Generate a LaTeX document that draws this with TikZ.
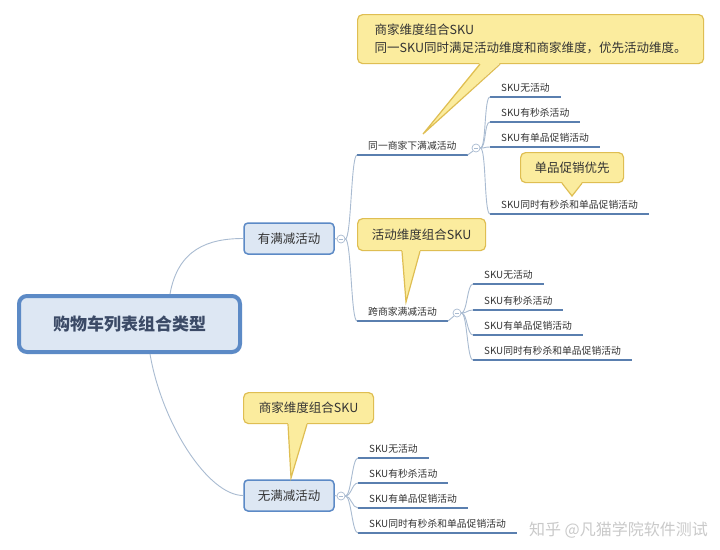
\documentclass[tikz,border=0pt]{standalone}
\usepackage{fontspec}
\setmainfont{Noto Sans CJK SC}
\usetikzlibrary{calc}
\definecolor{connc}{HTML}{A9BBD1}
\definecolor{ulc}{HTML}{5A7FAF}
\definecolor{boxfill}{HTML}{DDE7F3}
\definecolor{boxdraw}{HTML}{5C8AC6}
\definecolor{callfill}{HTML}{FBEC9E}
\definecolor{calldraw}{HTML}{DFBE52}
\definecolor{txt}{HTML}{333333}
\definecolor{roottxt}{HTML}{3B4A66}
\definecolor{wmc}{HTML}{C4C4C4}
\tikzset{
 rootbox/.style={draw=boxdraw, line width=4pt, fill=boxfill, rounded corners=8pt,
   minimum width=221pt, minimum height=56pt, font=\fontsize{17}{20}\selectfont\bfseries, text=roottxt},
 l1box/.style={draw=boxdraw, line width=1.5pt, fill=boxfill, rounded corners=4pt,
   minimum width=90pt, minimum height=31pt, font=\fontsize{12.5}{15}\selectfont, text=txt},
 ulinestyle/.style={draw=ulc, line width=2.5pt},
 topic/.style={inner xsep=11pt, inner ysep=3pt, text height=8.5pt, text depth=2pt,
   font=\fontsize{9.8}{12}\selectfont, text=txt, anchor=south west,
   append after command={(\tikzlastnode.south west) edge[ulinestyle] (\tikzlastnode.south east)}},
 conn/.style={draw=connc, line width=0.9pt},
 fold/.style={circle, draw=connc, fill=white, line width=0.7pt, minimum size=8pt, inner sep=0pt,
   path picture={\draw[connc,line width=0.7pt] ([xshift=-2pt]path picture bounding box.center) -- ([xshift=2pt]path picture bounding box.center);}},
 callout/.style={draw=calldraw, fill=callfill, line width=1.2pt, rounded corners=5pt,
   font=\fontsize{12.5}{18}\selectfont, text=txt, anchor=north west, inner sep=0pt},
 ptrfill/.style={fill=callfill},
 ptrdraw/.style={draw=calldraw, line width=1.2pt, line join=miter},
 wm/.style={font=\fontsize{16}{20}\selectfont, text=wmc, opacity=0.9, inner sep=0pt},
}
\begin{document}
\begin{tikzpicture}[x=1pt,y=-1pt]
\useasboundingbox (0,0) rectangle (720,549);
\fill[white] (0,0) rectangle (720,549);

% main nodes
\node[rootbox] (root) at (129.5,324) {购物车列表组合类型};
\node[l1box] (yes) at (289,238.5) {有满减活动};
\node[l1box] (no) at (289,495.5) {无满减活动};
\node[fold] (fy) at (341,239) {};
\node[fold] (fn) at (341,496) {};

% level 2
\node[topic] (same) at (357,155) {同一商家下满减活动};
\node[topic] (cross) at (357,321) {跨商家满减活动};
\node[fold] (fs) at (476,148) {};
\node[fold] (fc) at (457,313) {};

% children of same
\node[topic] (a1) at (490,97) {SKU无活动};
\node[topic] (a2) at (490,122) {SKU有秒杀活动};
\node[topic] (a3) at (490,147) {SKU有单品促销活动};
\node[topic] (a4) at (490,214) {SKU同时有秒杀和单品促销活动};
% children of cross
\node[topic] (b1) at (473,284) {SKU无活动};
\node[topic] (b2) at (473,310) {SKU有秒杀活动};
\node[topic] (b3) at (473,335) {SKU有单品促销活动};
\node[topic] (b4) at (473,360) {SKU同时有秒杀和单品促销活动};
% children of no
\node[topic] (c1) at (358,458) {SKU无活动};
\node[topic] (c2) at (358,483) {SKU有秒杀活动};
\node[topic] (c3) at (358,508) {SKU有单品促销活动};
\node[topic] (c4) at (358,533) {SKU同时有秒杀和单品促销活动};

% connectors
\draw[conn] ([xshift=40.5pt]root.north) .. controls +(8,-45) and +(-35,0) .. (yes.west);
\draw[conn] ([xshift=20.5pt]root.south) .. controls +(12,70) and +(-35,0) .. (no.west);
\draw[conn] (yes.east) -- (fy.west);
\draw[conn] (no.east) -- (fn.west);
\foreach \t in {same,cross}
  \draw[conn] (fy.east) .. controls +(6,0) and +(-6,0) .. (\t.south west);
\draw[conn] (same.south east) -- (fs.south west);
\draw[conn] (cross.south east) -- (fc.south west);
\foreach \t in {a1,a2,a3,a4}
  \draw[conn] (fs.east) .. controls +(6,0) and +(-6,0) .. (\t.south west);
\foreach \t in {b1,b2,b3,b4}
  \draw[conn] (fc.east) .. controls +(6,0) and +(-6,0) .. (\t.south west);
\foreach \t in {c1,c2,c3,c4}
  \draw[conn] (fn.east) .. controls +(6,0) and +(-6,0) .. (\t.south west);

% callouts
\node[callout, minimum width=346pt, minimum height=49pt, align=left] (t1) at (357,14)
  {商家维度组合SKU\\同一SKU同时满足活动维度和商家维度，优先活动维度。};
\coordinate (t1tip) at (423,134);
\fill[ptrfill] ([xshift=123pt,yshift=1.4pt]t1.south west) -- (t1tip) -- ([xshift=143pt,yshift=1.4pt]t1.south west) -- cycle;
\draw[ptrdraw] ([xshift=123pt]t1.south west) -- (t1tip) -- ([xshift=143pt]t1.south west);

\node[callout, minimum width=128pt, minimum height=32pt] (t2) at (357,218) {活动维度组合SKU};
\coordinate (t2tip) at (406,302);
\fill[ptrfill] ([xshift=45pt,yshift=1.4pt]t2.south west) -- (t2tip) -- ([xshift=63pt,yshift=1.4pt]t2.south west) -- cycle;
\draw[ptrdraw] ([xshift=45pt]t2.south west) -- (t2tip) -- ([xshift=63pt]t2.south west);

\node[callout, minimum width=103pt, minimum height=30pt] (t3) at (520,152) {单品促销优先};
\coordinate (t3tip) at (572,196);
\fill[ptrfill] ([xshift=42pt,yshift=1.4pt]t3.south west) -- (t3tip) -- ([xshift=62pt,yshift=1.4pt]t3.south west) -- cycle;
\draw[ptrdraw] ([xshift=42pt]t3.south west) -- (t3tip) -- ([xshift=62pt]t3.south west);

\node[callout, minimum width=130pt, minimum height=31pt] (t4) at (243,392) {商家维度组合SKU};
\coordinate (t4tip) at (291,478);
\fill[ptrfill] ([xshift=45pt,yshift=1.4pt]t4.south west) -- (t4tip) -- ([xshift=64pt,yshift=1.4pt]t4.south west) -- cycle;
\draw[ptrdraw] ([xshift=45pt]t4.south west) -- (t4tip) -- ([xshift=64pt]t4.south west);

% watermark
\node[wm, anchor=east] (wmark) at (708,530) {知乎 @凡猫学院软件测试};
\end{tikzpicture}
\end{document}
